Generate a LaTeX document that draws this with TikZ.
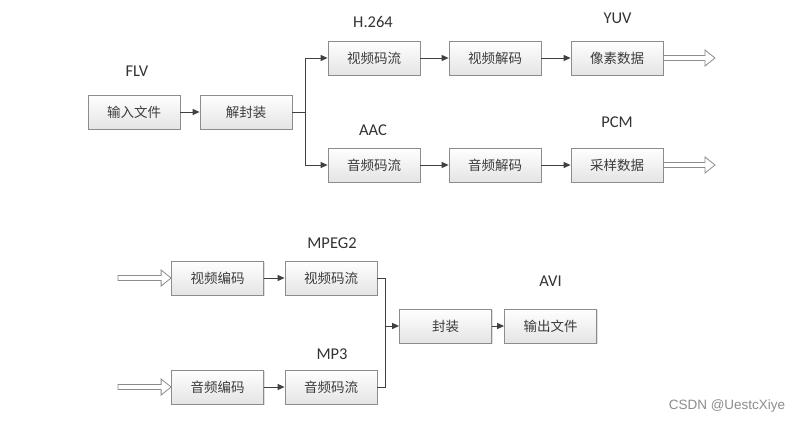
\documentclass[tikz,border=0pt]{standalone}
\usepackage{fontspec}
\setmainfont{Carlito}
\newfontfamily\cjk{Noto Sans CJK SC}
\newfontfamily\wmfont{Liberation Sans}
\usetikzlibrary{arrows.meta,shadows,calc}
\definecolor{boxline}{HTML}{8C8C8C}
\definecolor{boxbot}{HTML}{E4E4E4}
\definecolor{ink}{HTML}{3C3C3C}
\definecolor{conn}{HTML}{404040}
\begin{document}
\begin{tikzpicture}[x=1pt,y=-1pt,
  blk/.style={draw=boxline, line width=0.8pt, top color=white, bottom color=boxbot,
    minimum width=92pt, minimum height=34pt, inner sep=0pt,
    font=\cjk\fontsize{13.5}{15}\selectfont, text=ink,
    drop shadow={shadow xshift=1.2pt, shadow yshift=-1.2pt, opacity=0.25}},
  lbl/.style={font=\fontsize{16.5}{18}\selectfont, text=black!80, inner sep=0pt},
  arr/.style={draw=conn, line width=1pt, -{Triangle[length=7pt,width=6pt]}},
  ln/.style={draw=conn, line width=1pt},
  hollow/.style={draw=boxline, line width=0.8pt, fill=white, line join=miter}
]
\useasboundingbox (0,0) rectangle (802,423);
\fill[white] (0,0) rectangle (802,423);

% top: demux
\node[blk] (in)    at (134,112) {输入文件};
\node[blk] (demux) at (246,112) {解封装};
\node[blk] (vs)  at (374,58)  {视频码流};
\node[blk] (vd)  at (495,58)  {视频解码};
\node[blk] (pix) at (617,58)  {像素数据};
\node[blk] (as)  at (374,165) {音频码流};
\node[blk] (ad)  at (495,165) {音频解码};
\node[blk] (pcm) at (617,165) {采样数据};

\node[lbl] (lflv) at (137,71)  {FLV};
\node[lbl] (lh)   at (373,22)  {H.264};
\node[lbl] (lyuv) at (617.5,18) {YUV};
\node[lbl] (laac) at (373,130) {AAC};
\node[lbl] (lpcm) at (617,122) {PCM};

\coordinate (jn) at (305,112);
\draw[arr] (in) -- (demux);
\draw[ln] (demux.east) -- (jn);
\draw[arr] (jn) |- (vs.west);
\draw[arr] (jn) |- (as.west);
\draw[arr] (vs) -- (vd);
\draw[arr] (vd) -- (pix);
\draw[arr] (as) -- (ad);
\draw[arr] (ad) -- (pcm);

% hollow arrows
\newcommand\hollowright[2]{%
  \draw[hollow] let \p1=(#1), \p2=(#2) in
    (\x1,\y1+2.5pt) -- (\x2-10pt,\y1+2.5pt) -- (\x2-10pt,\y1+8pt) -- (\x2,\y1)
    -- (\x2-10pt,\y1-8pt) -- (\x2-10pt,\y1-2.5pt) -- (\x1,\y1-2.5pt) -- cycle;}
\coordinate (pixend) at (715,58);
\coordinate (pcmend) at (715,165);
\hollowright{pix.east}{pixend}
\hollowright{pcm.east}{pcmend}

% bottom: mux
\node[blk] (venc) at (217.5,278) {视频编码};
\node[blk] (vs2)  at (331,278)   {视频码流};
\node[blk] (aenc) at (217.5,387) {音频编码};
\node[blk] (as2)  at (331,387)   {音频码流};
\node[blk] (mux)  at (445.5,326) {封装};
\node[blk] (out)  at (550.5,326) {输出文件};

\node[lbl] (lmpeg) at (332,243) {MPEG2};
\node[lbl] (lmp3)  at (332,354) {MP3};
\node[lbl] (lavi)  at (550.5,281) {AVI};

\coordinate (vstart) at (118,278);
\coordinate (astart) at (118,387);
\hollowright{vstart}{venc.west}
\hollowright{astart}{aenc.west}

\coordinate (mj) at (385,326);
\draw[arr] (venc) -- (vs2);
\draw[arr] (aenc) -- (as2);
\draw[ln] (vs2.east) -| (mj);
\draw[ln] (as2.east) -| (mj);
\draw[arr] (mj) -- (mux.west);
\draw[arr] (mux) -- (out);

\node[font=\wmfont\fontsize{13.5}{15}\selectfont, text=black!45, inner sep=0pt] (wm) at (727,406) {CSDN @UestcXiye};
\end{tikzpicture}
\end{document}
